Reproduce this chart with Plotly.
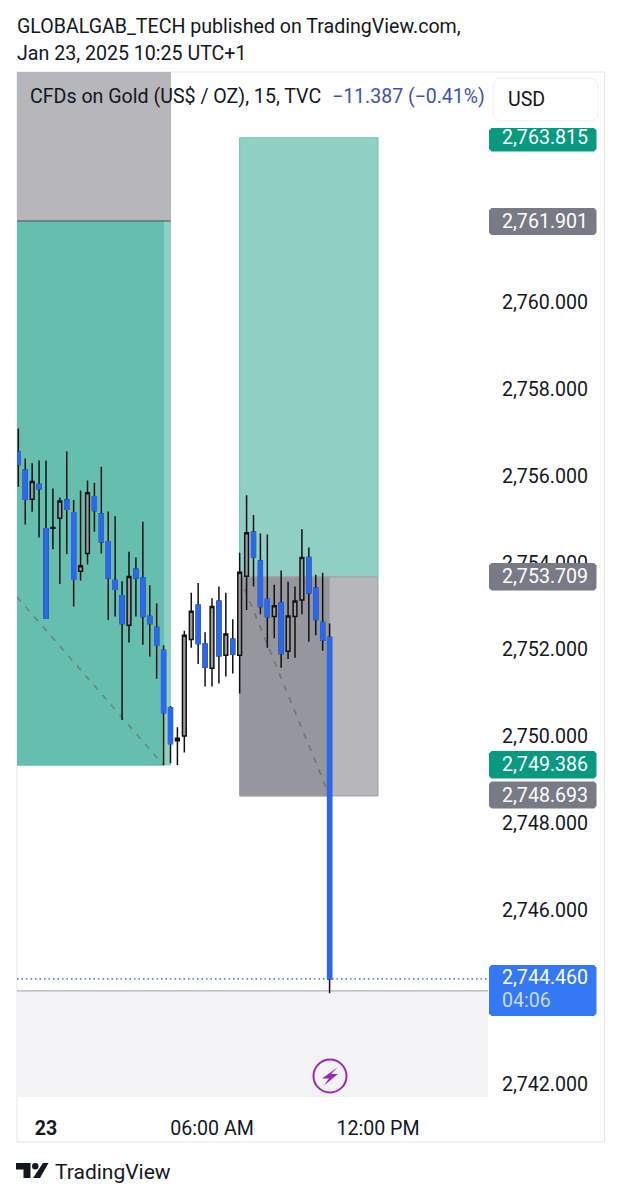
#Velas de oro 15 min con zonas de posicion, estilo captura de TradingView
import pandas as pd
import plotly.graph_objects as go

W = 621
H = 1200

# datos de las velas
opens = [2756.54, 2756.13, 2755.46, 2755.80, 2754.78, 2754.79, 2755.02, 2755.44, 2755.15, 2753.80,
         2754.21, 2755.52, 2755.12, 2754.48, 2753.59, 2753.24, 2752.56, 2753.85, 2753.65, 2752.76,
         2752.51, 2751.98, 2750.66, 2749.90, 2750.01, 2752.23, 2753.02, 2752.13, 2751.57, 2753.11,
         2751.87, 2752.24, 2751.87, 2753.69, 2754.70, 2754.04, 2753.15, 2752.76, 2753.07, 2751.96,
         2752.76, 2753.14, 2754.12, 2753.41, 2752.62, 2752.28]
highs = [2757.09, 2756.40, 2756.29, 2756.35, 2756.35, 2755.71, 2755.50, 2756.56, 2755.44, 2755.66,
         2755.89, 2755.84, 2756.21, 2755.18, 2755.07, 2753.57, 2754.25, 2754.12, 2754.94, 2753.48,
         2753.06, 2752.10, 2750.70, 2750.21, 2752.43, 2753.31, 2753.53, 2752.40, 2753.18, 2753.45,
         2753.31, 2752.70, 2754.23, 2755.55, 2755.10, 2754.67, 2754.65, 2753.49, 2753.82, 2753.56,
         2753.45, 2754.77, 2754.35, 2753.72, 2753.77, 2752.60]
lows = [2755.75, 2754.88, 2755.17, 2754.58, 2752.72, 2754.31, 2753.51, 2754.20, 2752.99, 2753.59,
        2753.96, 2754.71, 2754.21, 2752.68, 2752.76, 2750.38, 2752.16, 2752.76, 2752.11, 2751.84,
        2751.33, 2749.34, 2749.38, 2749.34, 2749.63, 2752.04, 2751.67, 2751.15, 2751.15, 2751.22,
        2751.38, 2751.45, 2750.99, 2752.91, 2753.45, 2752.81, 2752.04, 2752.26, 2751.58, 2751.78,
        2751.81, 2752.81, 2752.18, 2752.33, 2751.97, 2744.09]
closes = [2756.26, 2755.46, 2755.87, 2755.70, 2752.72, 2754.81, 2755.42, 2755.23, 2753.62, 2753.93,
          2755.61, 2755.20, 2754.48, 2753.65, 2753.39, 2752.60, 2753.68, 2753.65, 2752.76, 2752.60,
          2752.10, 2750.55, 2749.84, 2749.96, 2752.33, 2752.88, 2752.14, 2751.59, 2752.99, 2751.86,
          2752.36, 2751.90, 2753.78, 2754.69, 2754.13, 2752.99, 2752.76, 2753.01, 2751.91, 2752.77,
          2753.12, 2754.12, 2753.31, 2752.69, 2752.22, 2744.42]
times = pd.date_range("2025-01-22 23:00", periods=len(opens), freq="15min")

# ejes
x_range = ["2025-01-22 22:57:07", "2025-01-23 15:58:34"]
y_range = [2741.70, 2765.295]
y_ticks = [2742, 2746, 2748, 2750, 2752, 2754, 2756, 2758, 2760]
y_tick_text = ["2,742.000", "2,746.000", "2,748.000", "2,750.000",
               "2,752.000", "2,754.000", "2,756.000", "2,758.000", "2,760.000"]
x_ticks = ["2025-01-23 00:00", "2025-01-23 06:00", "2025-01-23 12:00"]
x_tick_text = ["<b>23</b>", "06:00 AM", "12:00 PM"]

# zonas de las dos posiciones
left_start = "2025-01-22 22:57:07"
left_mid = "2025-01-23 04:15"
left_end = "2025-01-23 04:30"
right_start = "2025-01-23 07:00"
right_mid = "2025-01-23 10:15"
right_end = "2025-01-23 12:00"
left_stop = 2761.865
left_entry = 2749.34
left_line_start = 2753.21
right_target = 2763.78
right_entry = 2753.67
right_stop = 2748.63
pane_line = 2744.145

# etiquetas de precio
label_text = ["2,763.815", "2,761.901", "2,753.709", "2,749.386", "2,748.693"]
label_colors = ["#089981", "#787b86", "#787b86", "#089981", "#787b86"]

GREEN_LIGHT = "#90d0c4"
GREEN_DARK = "#66bfae"
GREY_LIGHT = "#b6b6bb"
GREY_DARK = "#96969e"
BLUE = "#2a68ee"
TEXT = "#131722"


def px(x, y):
    return x / W, 1 - y / H


def poly(points, color, line=None):
    p = []
    for i, (a, b) in enumerate(points):
        u, v = px(a, b)
        p.append(("M" if i == 0 else "L") + f"{u:.5f},{v:.5f}")
    return dict(type="path", xref="paper", yref="paper", path=" ".join(p) + " Z",
                fillcolor=color, line=dict(color=line, width=1) if line else dict(width=0), layer="above")


def round_box(x0, y0, x1, y1, color, r=2.5, line=None):
    # rectangulo redondeado en pixeles de la pagina
    pts = [(x0 + r, y0), (x1 - r, y0), (x1, y0 + r), (x1, y1 - r),
           (x1 - r, y1), (x0 + r, y1), (x0, y1 - r), (x0, y0 + r)]
    return poly(pts, color, line)


def zone(x0, x1, y0, y1, color, edge=None):
    return dict(type="rect", xref="x", yref="y", x0=x0, x1=x1, y0=y0, y1=y1, fillcolor=color,
                line=dict(color=edge or color, width=1), layer="below")


fig = go.Figure()

# todas las velas con mecha negra, luego el cuerpo azul encima en las bajistas
fig.add_trace(go.Candlestick(
    x=times, open=opens, high=highs, low=lows, close=closes, whiskerwidth=0,
    increasing=dict(fillcolor="#9b9ba0", line=dict(color="#111111", width=1.5)),
    decreasing=dict(fillcolor=BLUE, line=dict(color="#111111", width=1.5)),
    showlegend=False))
down = [i for i in range(len(opens)) if closes[i] < opens[i]]
fig.add_trace(go.Candlestick(
    x=[times[i] for i in down],
    open=[opens[i] for i in down], high=[opens[i] for i in down],
    low=[closes[i] for i in down], close=[closes[i] for i in down], whiskerwidth=0,
    increasing=dict(fillcolor=BLUE, line=dict(color=BLUE, width=1.5)),
    decreasing=dict(fillcolor=BLUE, line=dict(color=BLUE, width=1.5)),
    showlegend=False))

shapes = [
    zone(left_start, left_end, left_stop, y_range[1], GREY_LIGHT, GREY_LIGHT),
    zone(left_start, left_end, left_entry, left_stop, GREEN_LIGHT),
    zone(left_start, left_mid, left_entry, left_stop, GREEN_DARK),
    dict(type="line", xref="x", yref="y", x0=left_start, x1=left_end, y0=left_stop, y1=left_stop,
         line=dict(color="#6b6d78", width=1.5), layer="below"),
    zone(right_start, right_end, right_entry, right_target, GREEN_LIGHT, "#6fc0b0"),
    zone(right_start, right_end, right_stop, right_entry, GREY_LIGHT, "#a0a0a6"),
    zone(right_start, right_mid, right_stop, right_entry, GREY_DARK, "#a0a0a6"),
    dict(type="line", xref="x", yref="y", x0=left_start, x1=left_mid, y0=left_line_start, y1=left_entry,
         line=dict(color="#6f8582", width=1.7, dash="6px,7px"), layer="below"),
    dict(type="line", xref="x", yref="y", x0=right_start, x1=right_mid, y0=right_entry, y1=right_stop,
         line=dict(color="#74747c", width=1.7, dash="6px,7px"), layer="below"),
    # panel inferior gris
    dict(type="rect", xref="x", yref="y", x0=x_range[0], x1=x_range[1], y0=y_range[0], y1=pane_line,
         fillcolor="#f3f3f5", line=dict(width=0), layer="below"),
    dict(type="line", xref="x", yref="y", x0=x_range[0], x1=x_range[1], y0=pane_line, y1=pane_line,
         line=dict(color="#b4b4b8", width=1.3), layer="below"),
    dict(type="line", xref="x", yref="y", x0=x_range[0], x1=x_range[1], y0=closes[-1], y1=closes[-1],
         line=dict(color="#1f56b5", width=1.2, dash="1.5px,3px"), layer="below"),
]

# marco del grafico
x0, y0 = px(17, 72)
x1, y1 = px(604.5, 1142)
shapes.append(dict(type="rect", xref="paper", yref="paper", x0=x0, x1=x1, y0=y0, y1=y1,
                   line=dict(color="#e6e7eb", width=1), fillcolor="rgba(0,0,0,0)", layer="below"))

# caja USD
shapes.append(round_box(493, 78.5, 598, 121, "#ffffff", r=5, line="#eceef2"))

# etiquetas de precio del eje
label_boxes = [(128, 151.5), (208, 235), (563, 590.5), (751, 778.5), (781.5, 808.5)]
for (top, bottom), color in zip(label_boxes, label_colors):
    shapes.append(round_box(489, top, 596.5, bottom, color))
shapes.append(round_box(489, 965, 596.5, 1016, "#3478f6"))

# icono de rayo
cx0, cy0 = px(330 - 16.5, 1076 - 16.5)
cx1, cy1 = px(330 + 16.5, 1076 + 16.5)
shapes.append(dict(type="circle", xref="paper", yref="paper", x0=cx0, x1=cx1, y0=cy0, y1=cy1,
                   line=dict(color="#9c27b0", width=2), fillcolor="rgba(0,0,0,0)", layer="above"))
shapes.append(poly([(338, 1067), (322, 1078.5), (329, 1078.5), (324, 1085.5),
                    (338, 1074), (331, 1074)], "#9c27b0"))

# logo de TradingView
shapes.append(poly([(16, 1163), (30.5, 1163), (30.5, 1178), (23.5, 1178), (23.5, 1169.5), (16, 1169.5)], TEXT))
shapes.append(poly([(43, 1163), (48.5, 1163), (40, 1178), (33, 1178)], TEXT))
dx0, dy0 = px(32, 1163)
dx1, dy1 = px(38.5, 1169.5)
shapes.append(dict(type="circle", xref="paper", yref="paper", x0=dx0, x1=dx1, y0=dy0, y1=dy1,
                   fillcolor=TEXT, line=dict(width=0), layer="above"))

annotations = []


def note(x, y, text, size, color=TEXT, anchor="left"):
    u, v = px(x, y)
    annotations.append(dict(x=u, y=v, xref="paper", yref="paper", text=text, showarrow=False,
                            xanchor=anchor, yanchor="middle", align="left", borderpad=0,
                            font=dict(family="Roboto", size=size, color=color)))


note(16, 26, "GLOBALGAB_TECH published on TradingView.com,", 19.6)
note(16, 53, "Jan 23, 2025 10:25 UTC+1", 19.6)
note(29, 97, "CFDs on Gold (US$ / OZ), 15, TVC", 19.6)
note(331, 97, "−11.387 (−0.41%)", 19.5, color="#3a55a8")
note(507, 99, "USD", 19.6)
note(54, 1172, "TradingView", 21)
for (top, bottom), text in zip([(125, 150), (208, 235), (563, 590.5), (751, 778.5), (781.5, 808.5)], label_text):
    note(501, (top + bottom) / 2, text, 19.6, color="#ffffff")
note(501, 977, "2,744.460", 19.6, color="#ffffff")
note(501, 1001, "04:06", 19.6, color="#c8dcfb")

fig.update_layout(
    width=W, height=H, margin=dict(l=0, r=0, t=0, b=0), paper_bgcolor="#ffffff", plot_bgcolor="#ffffff",
    boxgap=0.22, shapes=shapes, annotations=annotations, showlegend=False,
    font=dict(family="Roboto", color=TEXT),
    xaxis=dict(domain=[17 / W, 488 / W], range=x_range, type="date", rangeslider=dict(visible=False),
               tickvals=x_ticks, ticktext=x_tick_text, showgrid=False, zeroline=False, showline=False,
               ticks="outside", ticklen=13, tickcolor="rgba(0,0,0,0)", tickfont=dict(size=19.6, color=TEXT)),
    yaxis=dict(domain=[1 - 1097 / H, 1 - 72 / H], range=y_range, side="right",
               tickvals=y_ticks, ticktext=y_tick_text,
               showgrid=False, zeroline=False, showline=False,
               ticks="outside", ticklen=9, tickcolor="rgba(0,0,0,0)", tickfont=dict(size=19.6, color=TEXT)),
)

fig.write_html("out.html", config=dict(displayModeBar=False),
               post_script="document.body.style.margin='0';")
